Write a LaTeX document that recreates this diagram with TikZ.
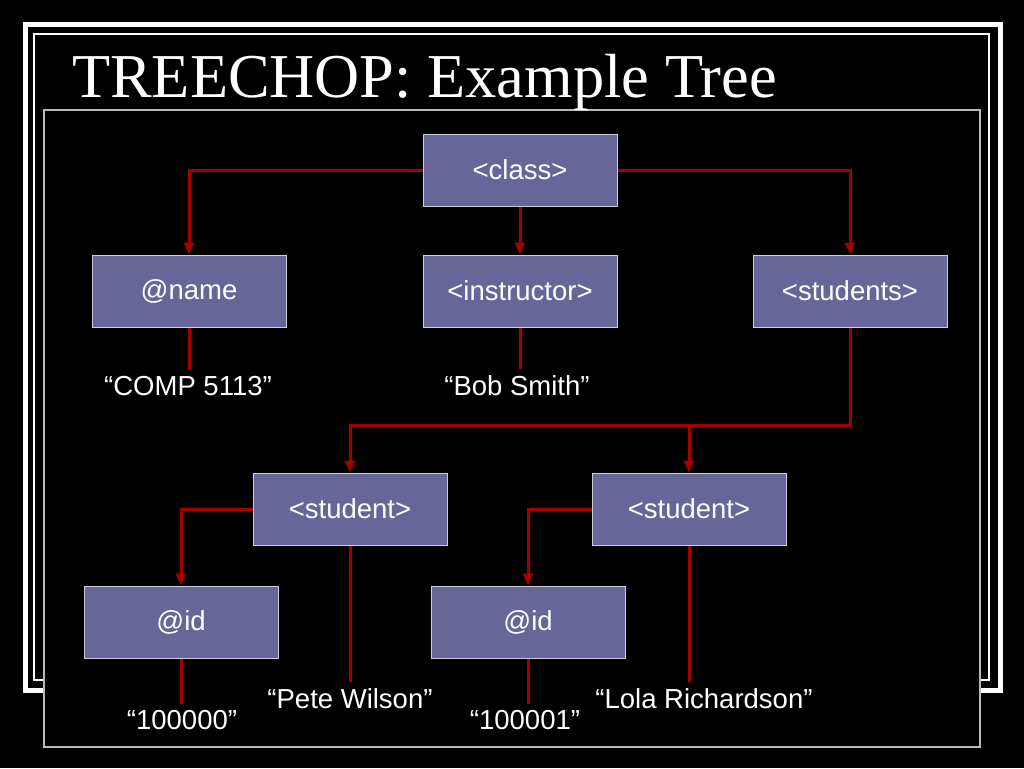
\documentclass[tikz,border=0pt]{standalone}
\usepackage{fontspec}
\setmainfont{Liberation Sans}
\newfontfamily\titlefont{Liberation Serif}
\usetikzlibrary{arrows.meta,positioning}
\definecolor{elementfill}{RGB}{102,102,153}
\definecolor{elementline}{RGB}{205,205,220}
\definecolor{linkred}{RGB}{165,0,0}
\definecolor{panelgray}{RGB}{185,185,185}
\tikzset{
  font=\fontsize{27.5}{32}\selectfont,
  element/.style={
    draw=elementline,
    line width=1pt,
    fill=elementfill,
    text=white,
    minimum width=194pt,
    minimum height=72pt,
    inner sep=0pt
  },
  value/.style={text=white,anchor=base,inner xsep=2pt,inner ysep=6pt},
  link/.style={draw=linkred,line width=3pt},
  arrow/.style={link,-{Triangle[length=12pt,width=10pt]}},
  frame/.style={draw=white}
}
\begin{document}
\begin{tikzpicture}[x=1pt,y=-1pt]

  \fill[black] (0,0) rectangle (1024,768);
  \useasboundingbox (0,0) rectangle (1024,768);

  % slide frames
  \draw[frame,line width=5pt] (25,25) rectangle (1000,690);
  \draw[frame,line width=1.5pt] (34,34) rectangle (989,680);
  \draw[draw=panelgray,fill=black,line width=1.5pt] (44,110) rectangle (980,747);

  \node[text=white,anchor=base west,inner sep=0pt,font=\titlefont\fontsize{62.4}{70}\selectfont]
    at (72,97) (title) {TREECHOP: Example Tree};

  % tree elements
  \node[element] at (520,170) (class) {<class>};
  \node[element] at (189,291) (name) {@name};
  \node[element] at (520,291) (instructor) {<instructor>};
  \node[element] at (850,291) (students) {<students>};
  \node[element] at (350,509) (student1) {<student>};
  \node[element] at (689,509) (student2) {<student>};
  \node[element] at (181,622) (id1) {@id};
  \node[element] at (528,622) (id2) {@id};

  % text values
  \node[value] at (188,395) (course) {“COMP 5113”};
  \node[value] at (517,395) (teacher) {“Bob Smith”};
  \node[value] at (350,708) (pete) {“Pete Wilson”};
  \node[value] at (704,708) (lola) {“Lola Richardson”};
  \node[value] at (182,729) (num1) {“100000”};
  \node[value] at (525,729) (num2) {“100001”};

  \coordinate (split) at (850,425);

  \draw[arrow] (class.west) -| (name.north);
  \draw[arrow] (class) -- (instructor);
  \draw[arrow] (class.east) -| (students.north);
  \draw[arrow] (students.south) -- (split) -| (student1.north);
  \draw[arrow] (student2.north |- split) -- (student2.north);
  \draw[arrow] (student1.west) -| (id1.north);
  \draw[arrow] (student2.west) -| (id2.north);

  \draw[link] (name.south) -- (name.south |- course.north);
  \draw[link] (instructor.south) -- (instructor.south |- teacher.north);
  \draw[link] (student1.south) -- (student1.south |- pete.north);
  \draw[link] (student2.south) -- (student2.south |- lola.north);
  \draw[link] (id1.south) -- (id1.south |- num1.north);
  \draw[link] (id2.south) -- (id2.south |- num2.north);

\end{tikzpicture}
\end{document}
